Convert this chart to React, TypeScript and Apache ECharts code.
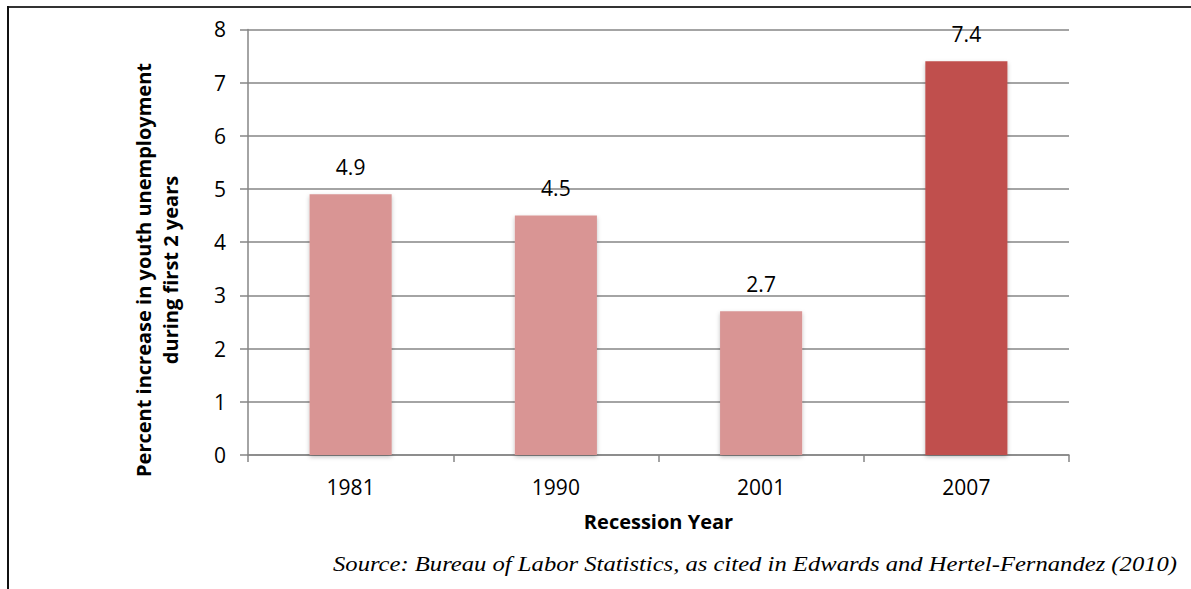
import React, { useEffect, useRef } from "react";
import * as echarts from "echarts";

const categories = ["1981", "1990", "2001", "2007"];
const values = [4.9, 4.5, 2.7, 7.4];
const barColors = ["#D99594", "#D99594", "#D99594", "#C0504D"];
const yTicks = { min: 0, max: 8, interval: 1 };
const yTitle = "Percent increase in youth unemployment\nduring first 2 years";
const xTitle = "Recession Year";
const sourceText = "Source: Bureau of Labor Statistics, as cited in Edwards and Hertel-Fernandez (2010)";

const FONT = "'Open Sans', Lato, sans-serif";

export default function App() {
  const ref = useRef<HTMLDivElement>(null);
  useEffect(() => {
    if (!ref.current) return;
    const chart = echarts.init(ref.current, undefined, { renderer: "svg" });
    chart.setOption({
      animation: false,
      backgroundColor: "#ffffff",
      grid: { left: 248, right: 122, top: 29.4, bottom: 134, containLabel: false },
      xAxis: {
        type: "category",
        data: categories,
        boundaryGap: true,
        axisLine: { show: true, lineStyle: { color: "#868686", width: 1.5 } },
        axisTick: { show: true, length: 7, alignWithLabel: false, lineStyle: { color: "#868686", width: 1.5 } },
        axisLabel: { margin: 21, color: "#000", fontSize: 21, fontFamily: FONT },
        name: xTitle,
        nameLocation: "middle",
        nameGap: 56,
        nameTextStyle: { color: "#000", fontSize: 20, fontWeight: "bold", fontFamily: FONT },
      },
      yAxis: {
        type: "value",
        min: yTicks.min,
        max: yTicks.max,
        interval: yTicks.interval,
        axisLine: { show: true, lineStyle: { color: "#868686", width: 1.5 } },
        axisTick: { show: true, inside: false, length: 8, lineStyle: { color: "#868686", width: 1.5 } },
        splitLine: { show: true, lineStyle: { color: "#868686", width: 1.5 } },
        axisLabel: { margin: 22, color: "#000", fontSize: 21, fontFamily: FONT },
      },
      series: [
        {
          type: "bar",
          barWidth: "40%",
          data: values.map((v, i) => ({
            value: v,
            itemStyle: {
              color: barColors[i],
              shadowBlur: 4,
              shadowColor: "rgba(0,0,0,0.25)",
              shadowOffsetY: 2,
            },
          })),
          label: {
            show: true,
            position: "top",
            distance: 17,
            color: "#000",
            fontSize: 21,
            fontFamily: FONT,
          },
        },
      ],
      graphic: [
        { type: "line", shape: { x1: 7, y1: 7, x2: 1191, y2: 7 }, style: { stroke: "#333", lineWidth: 2 } },
        { type: "line", shape: { x1: 8, y1: 6, x2: 8, y2: 589 }, style: { stroke: "#111", lineWidth: 2 } },
        {
          type: "text",
          x: 157,
          y: 270,
          rotation: Math.PI / 2,
          style: {
            text: yTitle,
            fill: "#000",
            align: "center",
            verticalAlign: "middle",
            lineHeight: 27,
            font: "bold 20px 'Open Sans', Lato, sans-serif",
          },
        },
        {
          type: "text",
          x: 333,
          y: 563,
          scaleX: 1.12,
          style: {
            text: sourceText,
            fill: "#000",
            align: "left",
            verticalAlign: "middle",
            font: "italic 22px 'Liberation Serif', 'Times New Roman', serif",
          },
        },
      ],
    });
    return () => chart.dispose();
  }, []);
  return <div ref={ref} style={{ position: "absolute", left: 0, top: 0, width: 1191, height: 589 }} />;
}
